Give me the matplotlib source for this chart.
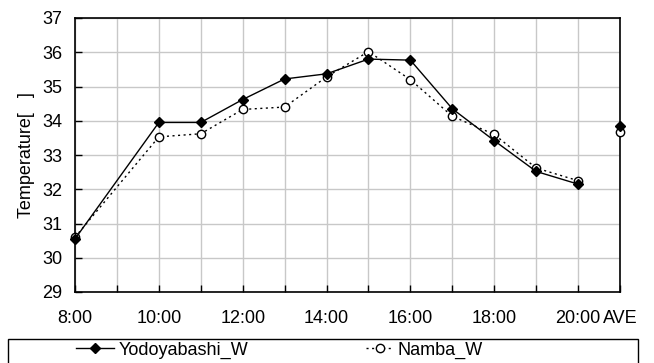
import numpy as np
import matplotlib.pyplot as plt
from matplotlib.patches import Rectangle

plt.rcParams['font.family'] = ['Liberation Sans', 'DejaVu Sans']

# data
hours = ['8:00', '10:00', '11:00', '12:00', '13:00', '14:00', '15:00',
         '16:00', '17:00', '18:00', '19:00', '20:00']
hour_pos = [0, 2, 3, 4, 5, 6, 7, 8, 9, 10, 11, 12]
yodo = [30.55, 33.95, 33.95, 34.62, 35.22, 35.37, 35.80, 35.77, 34.35, 33.42, 32.52, 32.15]
namba = [30.60, 33.53, 33.62, 34.33, 34.40, 35.28, 36.02, 35.20, 34.13, 33.60, 32.62, 32.25]
yodo_ave = 33.85
namba_ave = 33.66
tick_labels = ['8:00', '10:00', '12:00', '14:00', '16:00', '18:00', '20:00', 'AVE']

fig = plt.figure(figsize=(6.54, 3.63), dpi=100)
ax = fig.add_axes([75 / 654, 1 - 292 / 363, 545 / 654, 274 / 363])

ave_pos = 13
l1, = ax.plot(hour_pos, yodo, color='black', lw=1.0, marker='D', ms=5.5,
              mfc='black', mec='black', clip_on=False, zorder=4)
ax.plot([ave_pos], [yodo_ave], color='black', marker='D', ms=5.5, ls='none',
        clip_on=False, zorder=4)
l2, = ax.plot(hour_pos, namba, color='black', lw=1.0, ls=(0, (1.5, 2.5)),
              marker='o', ms=6, mfc='white', mec='black', mew=1.0, clip_on=False, zorder=3)
ax.plot([ave_pos], [namba_ave], color='black', marker='o', ms=6, mfc='white',
        mec='black', mew=1.0, ls='none', clip_on=False, zorder=3)

ax.set_xlim(0, 13)
ax.set_ylim(29, 37)
ax.set_xticks(np.arange(0, 14), minor=True)
ax.set_xticks([0, 2, 4, 6, 8, 10, 12, 13])
ax.set_xticklabels(tick_labels, fontsize=13)
ax.set_yticks(np.arange(29, 38))
ax.tick_params(axis='y', labelsize=13, direction='in', length=5, width=1, pad=9)
ax.tick_params(axis='x', which='both', direction='in', length=5, width=1, pad=13)
ax.grid(True, which='both', color='#c8c8c8', lw=1.0)
ax.set_axisbelow(True)
for s in ax.spines.values():
    s.set_linewidth(1.2)
ax.set_ylabel('Temperature[   ]', fontsize=13, labelpad=5)

# legend box
fig.patches.append(Rectangle((8 / 654, -0.05), 630 / 654, (363 - 339) / 363 + 0.05,
                             transform=fig.transFigure, fill=False, ec='black', lw=1.0))
fig.legend([l1], ['Yodoyabashi_W'], loc='center left', bbox_to_anchor=(69 / 654, 13 / 363),
           frameon=False, fontsize=13, handlelength=2.1, handletextpad=0.25, borderaxespad=0)
fig.legend([l2], ['Namba_W'], loc='center left', bbox_to_anchor=(359 / 654, 13 / 363),
           frameon=False, fontsize=13, handlelength=1.5, handletextpad=0.25, borderaxespad=0)

fig.savefig('out.png', dpi=100)
